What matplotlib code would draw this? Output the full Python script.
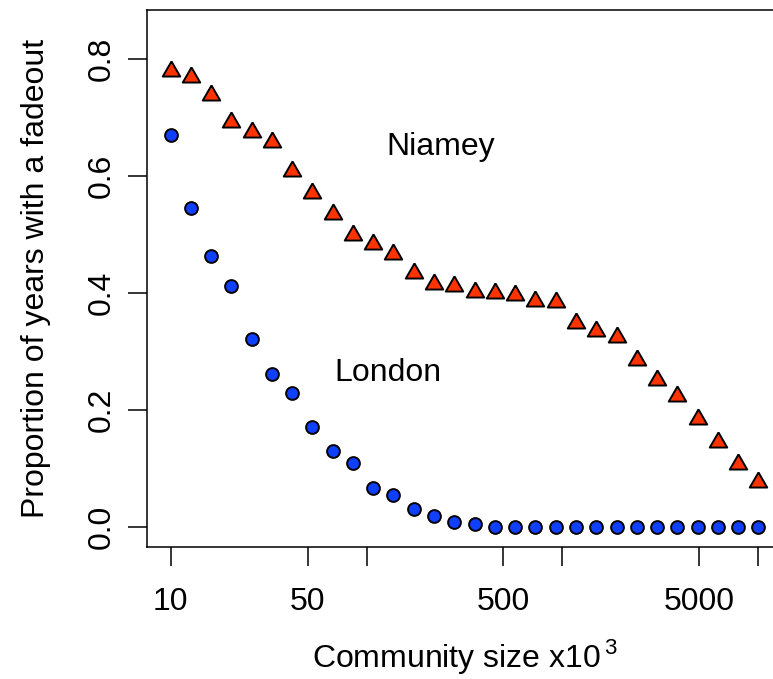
import matplotlib
matplotlib.use('Agg')
import matplotlib.pyplot as plt
from matplotlib.ticker import NullLocator

plt.rcParams['font.family'] = ['Liberation Sans', 'DejaVu Sans']
plt.rcParams['mathtext.fontset'] = 'custom'
plt.rcParams['mathtext.rm'] = 'Liberation Sans'

# community size (x10^3)
size = [10, 12.7, 16.1, 20.4, 25.9, 32.9, 41.8, 53.0, 67.2, 85.3,
        108, 137, 174, 221, 281, 356, 452, 574, 728, 924,
        1172, 1487, 1888, 2395, 3039, 3857, 4894, 6210, 7880, 10000]

niamey = [0.779, 0.770, 0.739, 0.692, 0.676, 0.659, 0.608, 0.571, 0.536, 0.500,
          0.484, 0.467, 0.435, 0.416, 0.413, 0.402, 0.401, 0.396, 0.386, 0.385,
          0.349, 0.336, 0.325, 0.285, 0.251, 0.224, 0.185, 0.146, 0.108, 0.077]

london = [0.670, 0.545, 0.464, 0.412, 0.322, 0.262, 0.229, 0.171, 0.130, 0.109,
          0.067, 0.055, 0.031, 0.019, 0.009, 0.006, 0.001, 0, 0, 0,
          0, 0, 0, 0, 0, 0, 0, 0, 0, 0]

xticks = [10, 50, 100, 500, 1000, 5000, 10000]
xticklabels = ['10', '50', '', '500', '', '5000', '']
yticks = [0.0, 0.2, 0.4, 0.6, 0.8]

fs = 23

fig = plt.figure(figsize=(7.73, 6.79), dpi=100)
ax = fig.add_axes([147 / 773, 1 - 547 / 679, 635 / 773, 537 / 679])

# R style triangle, centred on its centroid
tri = [(0, 1.555), (1.347, -0.778), (-1.347, -0.778), (0, 1.555)]

ax.plot(size, niamey, linestyle='none', marker=tri, ms=14.5,
        mfc='#ff3300', mec='black', mew=1.4)
ax.plot(size, london, linestyle='none', marker='o', ms=9.2,
        mfc='#1040ff', mec='black', mew=1.4)

ax.text(239, 0.650, 'Niamey', fontsize=fs, ha='center', va='center')
ax.text(129, 0.264, 'London', fontsize=fs, ha='center', va='center')

ax.set_xscale('log')
ax.set_xlim(10 ** 0.88, 10 ** 4.12)
ax.set_ylim(-0.034, 0.884)
ax.set_xticks(xticks)
ax.set_xticklabels(xticklabels)
ax.xaxis.set_minor_locator(NullLocator())
ax.set_yticks(yticks)
ax.set_yticklabels(['%.1f' % v for v in yticks], rotation=90, va='center')

ax.tick_params(direction='out', length=13.5, width=1.1, labelsize=fs)
ax.tick_params(axis='x', pad=15)
ax.tick_params(axis='y', pad=8)
for s in ax.spines.values():
    s.set_linewidth(1.1)

ax.set_xlabel('Community size x10$^{\\,3}$', fontsize=fs, labelpad=15)
ax.set_ylabel('Proportion of years with a fadeout', fontsize=fs, labelpad=26)

fig.savefig('out.png', dpi=100)
